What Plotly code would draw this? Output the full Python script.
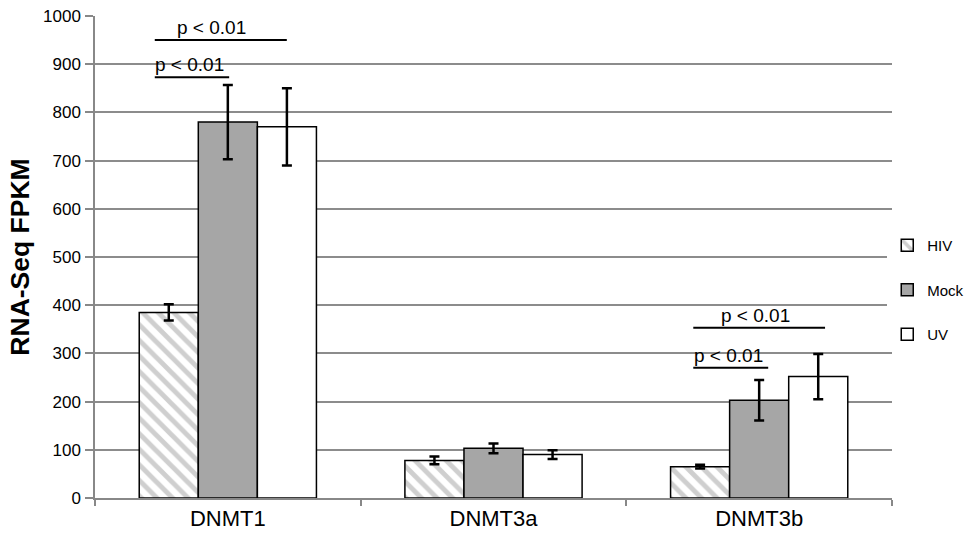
import plotly.graph_objects as go

genes = ["DNMT1", "DNMT3a", "DNMT3b"]
hiv = [385, 78, 65]
hiv_err = [17, 8, 4]
mock = [780, 103, 203]
mock_err = [77, 10, 42]
uv = [770, 90, 252]
uv_err = [80, 9, 47]

# significance brackets: (category index, x start offset, x end offset, y level, label, text shift px)
sig_brackets = [
    (0, -0.275, 0.222, 950, "p < 0.01", -9),
    (0, -0.275, 0.005, 873, "p < 0.01", -2),
    (2, -0.248, 0.248, 353, "p < 0.01", -4),
    (2, -0.248, 0.034, 270, "p < 0.01", -2),
]

font = "Liberation Sans, Arial, sans-serif"
edge = dict(color="black", width=1.5)

def err(vals):
    return dict(type="data", array=vals, visible=True, color="black", thickness=2.5, width=5)

fig = go.Figure()
fig.add_trace(go.Bar(
    name="HIV", x=genes, y=hiv, error_y=err(hiv_err), legendgroup="a",
    marker=dict(color="white", line=edge,
                pattern=dict(shape="\\", fgcolor="#a0a0a0", bgcolor="white", size=11, solidity=0.45)),
))
fig.add_trace(go.Bar(
    name="Mock", x=genes, y=mock, error_y=err(mock_err), legendgroup="b",
    marker=dict(color="#a6a6a6", line=edge),
))
fig.add_trace(go.Bar(
    name="UV", x=genes, y=uv, error_y=err(uv_err), legendgroup="c",
    marker=dict(color="white", line=edge),
))

shapes = []
annotations = []
for idx, x0, x1, yv, label, dx in sig_brackets:
    shapes.append(dict(type="line", xref="x", yref="y", x0=idx + x0, x1=idx + x1, y0=yv, y1=yv,
                       line=dict(color="black", width=2)))
    annotations.append(dict(xref="x", yref="y", x=idx + (x0 + x1) / 2, y=yv, text=label,
                            showarrow=False, yanchor="bottom", yshift=0, xshift=dx,
                            font=dict(family=font, size=19, color="black")))

fig.update_layout(
    width=975, height=540,
    margin=dict(l=95, r=83, t=16, b=42, autoexpand=False),
    paper_bgcolor="white", plot_bgcolor="white",
    barmode="group", bargap=0.333, bargroupgap=0,
    font=dict(family=font, size=15, color="black"),
    shapes=shapes, annotations=annotations,
    legend=dict(xref="container", yref="container", x=0.91, y=0.463,
                xanchor="left", yanchor="middle",
                font=dict(family=font, size=15), tracegroupgap=22,
                itemwidth=30),
    xaxis=dict(type="category", showline=True, linecolor="#888888", linewidth=1.5,
               ticks="outside", tickson="boundaries", ticklen=6, tickcolor="#888888",
               tickwidth=1.5, tickfont=dict(size=22, family=font), range=[-0.5, 2.5],
               automargin=False),
    yaxis=dict(range=[0, 1000], dtick=100, showgrid=True, gridcolor="#8c8c8c", gridwidth=1.5,
               showline=True, linecolor="#888888", linewidth=1.5, ticks="outside",
               ticklen=8, tickcolor="#888888", tickwidth=1.5, ticklabelstandoff=1,
               tickfont=dict(size=17, family=font), zeroline=False, automargin=False,
               title=dict(text="<b>RNA-Seq FPKM</b>", font=dict(size=26.5, family=font), standoff=6)),
)

fig.write_html("out.html")
